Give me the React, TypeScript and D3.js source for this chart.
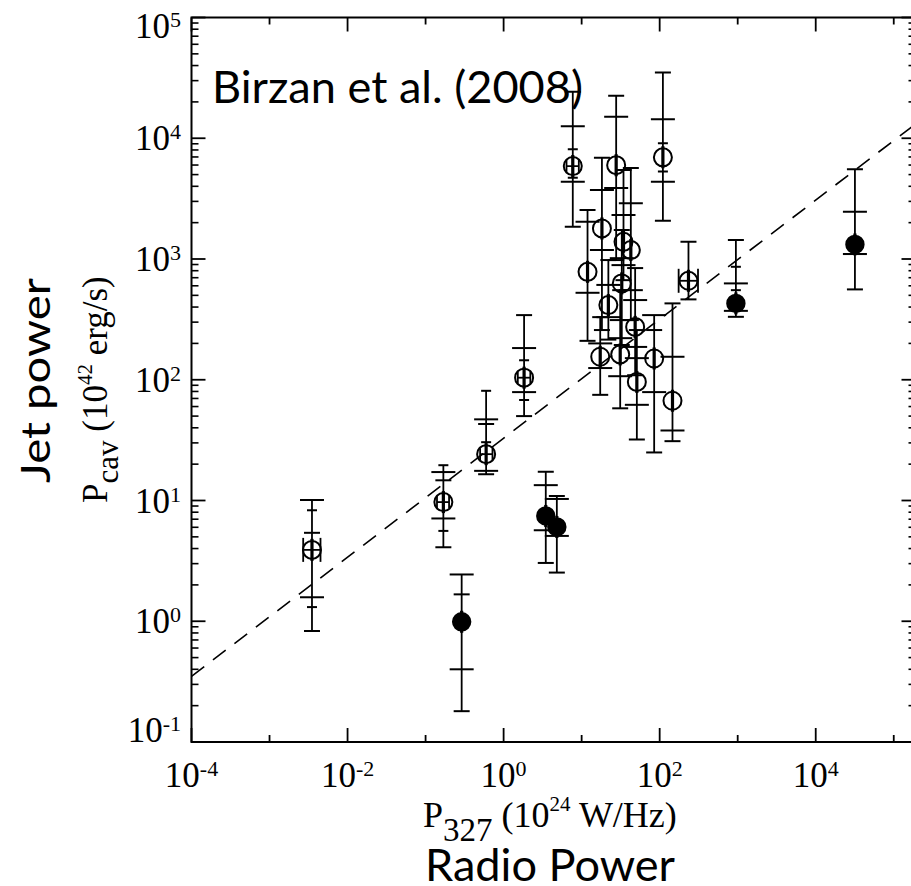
import React from 'react';
import * as d3 from 'd3';

// ---------- data ----------
const xDomain = [1e-4, 1.9e5];
const yDomain = [1e-1, 1e5];
const xLabelExps = [-4, -2, 0, 2, 4];
const yLabelExps = [-1, 0, 1, 2, 3, 4, 5];

const pointX = [0.0035, 0.169, 0.597, 1.83, 7.7, 27.7, 110, 18.2, 22, 17.3, 31.2, 32.7, 34.4, 42.7, 48.5, 85, 51, 146, 11.9, 234,
  0.29, 3.47, 4.81, 948, 31800];
const pointY = [3.9, 9.7, 24.2, 104, 5880, 5990, 6950, 1790, 415, 155, 162, 628, 1388, 1186, 274, 150, 96, 67, 783, 660,
  0.99, 7.45, 6.04, 429, 1321];
const pointFilled = [false, false, false, false, false, false, false, false, false, false, false, false, false, false, false, false, false, false, false, false,
  true, true, true, true, true];
// wide-capped errors
const wideLo = [1.58, 7.1, 17.6, 79, 4360, 3870, 4360, 1190, 330, 125, 107, 312, 890, 552, 187, 79, 62, 38, 525, null,
  0.40, 5.67, 5.09, 372, 1099];
const wideHi = [10.1, 17.2, 47, 183, 12600, 15100, 14400, 3720, 610, 200, 221, 1016, 2310, 2900, 457, 343, 151, 155, 2030, null,
  2.44, 13.4, 10.3, 628, 2460];
// medium-capped errors
const midLo = [0.83, 4.1, 16.5, 50, 1850, 980, 2070, 258, 215, 75, 58, 194, 668, 312, 109, 25, 32, 31, 210, 463,
  0.18, 3.04, 2.53, 332, 560];
const midHi = [5.4, 14.7, 43, 343, 24300, 22500, 35000, 6890, 980, 330, 552, 1735, 5460, 5660, 841, 258, 258, 429, 2540, 1390,
  1.67, 17.3, 10.9, 1435, 5525];
// small-capped errors
const smallLo = [1.31, 5.6, 30.4, 68, 4700, null, 5300, null, null, null, null, null, null, null, null, null, null, null, null, null,
  null, null, null, 552, null];
const smallHi = [8.3, 19.6, 81, 145, 8090, null, 9070, null, null, null, null, null, null, null, null, null, null, null, null, null,
  null, null, null, 862, null];
// horizontal errors
const xErrLo = [0.0027, 0.14, 0.50, 1.52, 6.4, null, null, null, null, null, null, null, null, null, null, null, null, null, null, 175,
  null, null, null, null, null];
const xErrHi = [0.0045, 0.20, 0.72, 2.2, 9.2, null, null, null, null, null, null, null, null, null, null, null, null, null, null, 310,
  null, null, null, null, null];

const fitSlope = 0.493;
const fitIntercept = 1.516;

// ---------- layout ----------
const W = 911, H = 886;
const PL = 191.5, PR = 915.5, PT = 17.5, PB = 742;
const serif = '"Liberation Serif", "Times New Roman", serif';
const sans = 'Lato, "Open Sans", sans-serif';

export default function App() {
  const x = d3.scaleLog().domain(xDomain).range([PL, PR]);
  const y = d3.scaleLog().domain(yDomain).range([PB, PT]);

  const xDecades = d3.range(-4, 6).map((e) => 10 ** e);
  const yMajor = d3.range(-1, 6).map((e) => 10 ** e);
  const yMinor: number[] = [];
  d3.range(-1, 5).forEach((e) => {
    for (let k = 2; k <= 9; k++) yMinor.push(k * 10 ** e);
  });

  const fitX = [xDomain[0], xDomain[1]];
  const fitLine = d3
    .line<number>()
    .x((d) => x(d))
    .y((d) => y(10 ** (fitSlope * Math.log10(d) + fitIntercept)));

  const stroke = '#000';
  const marks: JSX.Element[] = [];
  pointX.forEach((px, i) => {
    const cx = x(px);
    const cy = y(pointY[i]);
    const los = [wideLo[i], midLo[i], smallLo[i]].filter((v) => v != null) as number[];
    const his = [wideHi[i], midHi[i], smallHi[i]].filter((v) => v != null) as number[];
    const top = y(Math.max(...his));
    const bot = y(Math.min(...los));
    marks.push(<line key={`v${i}`} x1={cx} x2={cx} y1={top} y2={bot} stroke={stroke} strokeWidth={1.8} />);
    const caps: [number | null, number][] = [
      [wideLo[i], 12], [wideHi[i], 12], [midLo[i], 8], [midHi[i], 8], [smallLo[i], 5], [smallHi[i], 5],
    ];
    caps.forEach(([v, hw], j) => {
      if (v == null) return;
      marks.push(
        <line key={`c${i}-${j}`} x1={cx - hw} x2={cx + hw} y1={y(v)} y2={y(v)} stroke={stroke} strokeWidth={2} />
      );
    });
    if (xErrLo[i] != null && xErrHi[i] != null) {
      const xl = x(xErrLo[i] as number);
      const xh = x(xErrHi[i] as number);
      const ch = i === 0 || i === 19 ? 12 : 6;
      marks.push(<line key={`h${i}`} x1={xl} x2={xh} y1={cy} y2={cy} stroke={stroke} strokeWidth={1.8} />);
      marks.push(<line key={`hl${i}`} x1={xl} x2={xl} y1={cy - ch} y2={cy + ch} stroke={stroke} strokeWidth={1.8} />);
      marks.push(<line key={`hr${i}`} x1={xh} x2={xh} y1={cy - ch} y2={cy + ch} stroke={stroke} strokeWidth={1.8} />);
    }
    // thick core of the bar through the symbol
    marks.push(<line key={`t${i}`} x1={cx} x2={cx} y1={cy - 11} y2={cy + 11} stroke={stroke} strokeWidth={3.2} />);
    marks.push(
      <circle key={`p${i}`} cx={cx} cy={cy} r={pointFilled[i] ? 8.7 : 9}
        fill={pointFilled[i] ? '#000' : 'none'} stroke={stroke} strokeWidth={2} />
    );
  });

  return (
    <svg width={W} height={H} style={{ position: 'absolute', left: 0, top: 0, background: '#fff' }}>
      <rect x={0} y={0} width={W} height={H} fill="#fff" />
      <defs>
        <clipPath id="plotclip">
          <rect x={PL} y={PT} width={PR - PL} height={PB - PT} />
        </clipPath>
      </defs>

      {/* fit line */}
      <path d={fitLine(fitX) || ''} fill="none" stroke="#000" strokeWidth={1.6} strokeDasharray="16 11" clipPath="url(#plotclip)" />

      {/* data */}
      <g clipPath="url(#plotclip)">{marks}</g>

      {/* frame */}
      <rect x={PL} y={PT} width={PR - PL} height={PB - PT} fill="none" stroke="#000" strokeWidth={2} />

      {/* x ticks (bottom & top) */}
      {xDecades.map((v, i) => {
        const e = Math.round(Math.log10(v));
        const len = e % 2 === 0 ? 14 : 7;
        return (
          <g key={`xt${i}`}>
            <line x1={x(v)} x2={x(v)} y1={PB} y2={PB - len} stroke="#000" strokeWidth={1.8} />
            <line x1={x(v)} x2={x(v)} y1={PT} y2={PT + len} stroke="#000" strokeWidth={1.8} />
          </g>
        );
      })}
      {/* y ticks (left & right) */}
      {yMajor.map((v, i) => (
        <g key={`ym${i}`}>
          <line x1={PL} x2={PL + 14} y1={y(v)} y2={y(v)} stroke="#000" strokeWidth={1.8} />
          <line x1={PR} x2={PR - 14} y1={y(v)} y2={y(v)} stroke="#000" strokeWidth={1.8} />
        </g>
      ))}
      {yMinor.map((v, i) => (
        <g key={`yn${i}`}>
          <line x1={PL} x2={PL + 7} y1={y(v)} y2={y(v)} stroke="#000" strokeWidth={1.6} />
          <line x1={PR} x2={PR - 7} y1={y(v)} y2={y(v)} stroke="#000" strokeWidth={1.6} />
        </g>
      ))}

      {/* x tick labels */}
      {xLabelExps.map((e) => (
        <text key={`xl${e}`} x={x(10 ** e)} y={787} textAnchor="middle" fontFamily={serif} fontSize={35} fill="#000">
          10<tspan dy={-11} fontSize={22}>{e}</tspan>
        </text>
      ))}
      {/* y tick labels */}
      {yLabelExps.map((e) => {
        const ty = y(10 ** e);
        const base = e === 5 ? 38 : e === -1 ? 742 : ty + 12;
        return (
          <text key={`yl${e}`} x={181} y={base} textAnchor="end" fontFamily={serif} fontSize={35} fill="#000">
            10<tspan dy={-11} fontSize={22}>{e}</tspan>
          </text>
        );
      })}

      {/* annotation */}
      <text x={212} y={103} fontFamily={sans} fontSize={44} textLength={371} lengthAdjust="spacingAndGlyphs" fill="#000">
        Birzan et al. (2008)
      </text>

      {/* x axis titles */}
      <text x={423} y={827} fontFamily={serif} fontSize={36} fill="#000">
        P<tspan dy={14} fontSize={33}>327</tspan>
        <tspan dy={-14} fontSize={36}> (10</tspan>
        <tspan dy={-16} fontSize={21}>24</tspan>
        <tspan dy={16} fontSize={36}> W/Hz)</tspan>
      </text>
      <text x={425} y={881} fontFamily={sans} fontSize={45} textLength={250} lengthAdjust="spacingAndGlyphs" fill="#000">
        Radio Power
      </text>

      {/* y axis titles */}
      <g transform="translate(50,483) rotate(-90)">
        <text x={0} y={0} fontFamily={sans} fontSize={41} textLength={205} lengthAdjust="spacingAndGlyphs" fill="#000">
          Jet power
        </text>
      </g>
      <g transform="translate(107,503) rotate(-90)">
        <text x={0} y={0} fontFamily={serif} fontSize={35} fill="#000">
          P<tspan dy={11} fontSize={31}>cav</tspan>
          <tspan dy={-11} fontSize={35}> (10</tspan>
          <tspan dy={-15} fontSize={21}>42</tspan>
          <tspan dy={15} fontSize={35}> erg/s)</tspan>
        </text>
      </g>
    </svg>
  );
}
